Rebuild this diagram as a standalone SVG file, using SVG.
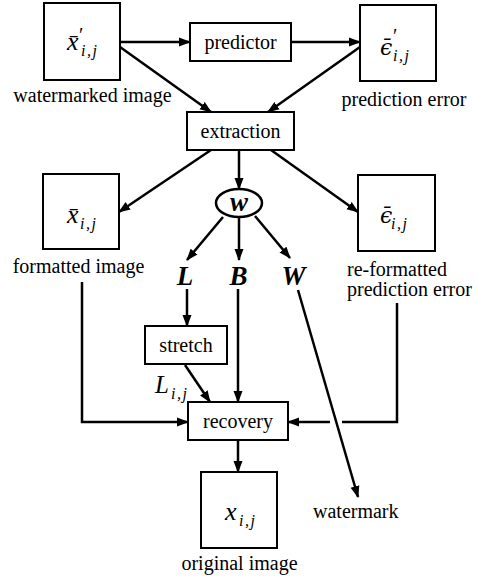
<svg xmlns="http://www.w3.org/2000/svg" width="484" height="583" viewBox="0 0 484 583">
<style>
text{font-family:'Liberation Serif','Times New Roman',serif;font-size:20px;fill:#000}
.box{fill:#fff;stroke:#000;stroke-width:2}
.c{fill:none;stroke:#000;stroke-width:2.5}
.a{marker-end:url(#ah)}
.m{font-style:italic;font-size:26px}
.e{font-family:'DejaVu Serif',serif;font-style:italic;font-size:22px}
.s{font-style:italic;font-size:16px;letter-spacing:1.5px}
.p{font-size:20px}
.bi{font-style:italic;font-weight:bold;font-size:27px}
.mid{text-anchor:middle}
</style>
<defs>
<marker id="ah" markerUnits="userSpaceOnUse" markerWidth="12" markerHeight="10" refX="11" refY="5" orient="auto">
<path d="M0,0.5 L12,5 L0,9.5 z" fill="#000"/>
</marker>
</defs>
<g id="connectors">
<line class="c a" x1="120" y1="42" x2="190" y2="42"/>
<line class="c a" x1="291" y1="42" x2="360" y2="42"/>
<line class="c a" x1="120" y1="47" x2="211" y2="112"/>
<line class="c a" x1="360" y1="47" x2="268" y2="112"/>
<line class="c a" x1="211" y1="150" x2="119" y2="212"/>
<line class="c a" x1="271" y1="150" x2="358" y2="212"/>
<line class="c a" x1="239" y1="150" x2="239" y2="189"/>
<line class="c a" x1="223" y1="217" x2="187" y2="260"/>
<line class="c a" x1="239" y1="217" x2="239" y2="260"/>
<line class="c a" x1="255" y1="216" x2="290" y2="258"/>
<line class="c a" x1="187" y1="289" x2="187" y2="326"/>
<line class="c a" x1="238" y1="289" x2="238" y2="402"/>
<line class="c a" x1="185" y1="365" x2="210" y2="402"/>
<path class="c a" d="M82,282 V422 H188"/>
<path class="c" d="M397,303 V422 H342"/>
<path class="c a" d="M330,422 H288"/>
<line class="c a" x1="298" y1="290" x2="358" y2="497"/>
<line class="c a" x1="238" y1="440" x2="238" y2="472"/>
<g id="label-Lij">
<text x="155" y="393" style="font-style:italic;font-size:25px">L</text>
<text x="171" y="399" class="s">i,j</text>
</g>
</g>
<g id="n-watermarked">
<rect class="box" x="44" y="3" width="76" height="77"/>
<text x="67" y="50" class="m">x&#x304;</text>
<text x="79" y="42" class="p">′</text>
<text x="81" y="56" class="s">i,j</text>
<text x="92.5" y="102" class="mid">watermarked image</text>
</g>
<g id="n-predictor">
<rect class="box" x="190" y="23" width="101" height="38"/>
<text x="240.5" y="49" class="mid">predictor</text>
</g>
<g id="n-prederr">
<rect class="box" x="360" y="5" width="76" height="76"/>
<text x="380" y="55" class="e">&#x3F5;&#x304;</text>
<text x="393" y="43" class="p">′</text>
<text x="393" y="61" class="s">i,j</text>
<text x="404" y="106" class="mid">prediction error</text>
</g>
<g id="n-extraction">
<rect class="box" x="187" y="112" width="107" height="38"/>
<text x="240.5" y="138" class="mid">extraction</text>
</g>
<g id="n-formatted">
<rect class="box" x="43" y="174" width="76" height="75"/>
<text x="67" y="223" class="m">x&#x304;</text>
<text x="80" y="229" class="s">i,j</text>
<text x="78.5" y="273" class="mid">formatted image</text>
</g>
<g id="n-reformatted">
<rect class="box" x="358" y="175" width="77" height="76"/>
<text x="380" y="223" class="e">&#x3F5;&#x304;</text>
<text x="391" y="229" class="s">i,j</text>
<text x="347" y="276">re-formatted</text>
<text x="347" y="296">prediction error</text>
</g>
<g id="n-w">
<ellipse cx="239" cy="203" rx="23" ry="14" fill="#fff" stroke="#000" stroke-width="2.5"/>
<text x="239" y="211" class="bi mid">w</text>
</g>
<g id="n-L"><text x="185" y="285" class="bi mid">L</text></g>
<g id="n-B"><text x="238.5" y="285" class="bi mid">B</text></g>
<g id="n-W"><text x="293.5" y="285" class="bi mid">W</text></g>
<g id="n-stretch">
<rect class="box" x="145" y="326" width="82" height="38"/>
<text x="186" y="352" class="mid">stretch</text>
</g>
<g id="n-recovery">
<rect class="box" x="188" y="402" width="100" height="38"/>
<text x="238" y="428" class="mid">recovery</text>
</g>
<g id="n-original">
<rect class="box" x="201" y="472" width="76" height="76"/>
<text x="225" y="520" class="m">x</text>
<text x="239" y="526" class="s">i,j</text>
<text x="239.5" y="570" class="mid">original image</text>
</g>
<g id="n-watermark">
<text x="313" y="518">watermark</text>
</g>
</svg>
